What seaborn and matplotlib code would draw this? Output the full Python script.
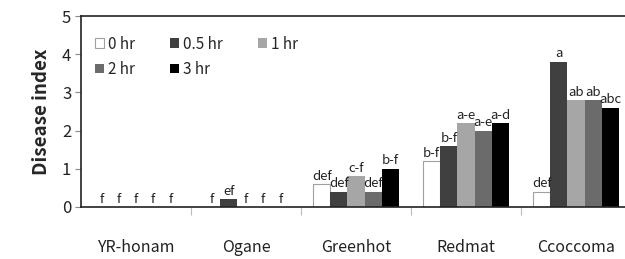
import numpy as np
import pandas as pd
import matplotlib
matplotlib.use("Agg")
import matplotlib.pyplot as plt
import seaborn as sns

# ---------------------------------------------------
# Data
# ---------------------------------------------------

cultivars = ["YR-honam", "Ogane", "Greenhot", "Redmat", "Ccoccoma"]

times = ["0 hr", "0.5 hr", "1 hr", "2 hr", "3 hr"]

values = {
    "0 hr":   [0.0, 0.0, 0.6, 1.2, 0.4],
    "0.5 hr": [0.0, 0.2, 0.4, 1.6, 3.8],
    "1 hr":   [0.0, 0.0, 0.8, 2.2, 2.8],
    "2 hr":   [0.0, 0.0, 0.4, 2.0, 2.8],
    "3 hr":   [0.0, 0.0, 1.0, 2.2, 2.6],
}

letters = {
    "0 hr":   ["f", "f", "def", "b-f", "def"],
    "0.5 hr": ["f", "ef", "def", "b-f", "a"],
    "1 hr":   ["f", "f", "c-f", "a-e", "ab"],
    "2 hr":   ["f", "f", "def", "a-e", "ab"],
    "3 hr":   ["f", "f", "b-f", "a-d", "abc"],
}

colors = ["#ffffff", "#404040", "#a6a6a6", "#6b6b6b", "#000000"]

rows = []
for t in times:
    for c, v in zip(cultivars, values[t]):
        rows.append({"Cultivar": c, "Time": t, "Value": v})
df = pd.DataFrame(rows)

# ---------------------------------------------------
# Plot
# ---------------------------------------------------

sns.set_style("white")
plt.rcParams["font.family"] = ["Noto Sans CJK KR", "DejaVu Sans"]

fig = plt.figure(figsize=(6.25, 2.59), dpi=100)
ax = fig.add_axes([0.1296, 0.2008, 0.88, 0.7372])

sns.barplot(
    data=df,
    x="Cultivar",
    y="Value",
    hue="Time",
    order=cultivars,
    hue_order=times,
    palette=colors,
    width=0.78,
    gap=0,
    edgecolor="none",
    ax=ax
)

for i, container in enumerate(ax.containers):
    if i == 0:
        for bar in container:
            bar.set_edgecolor("#a0a0a0")
            bar.set_linewidth(0.8)
    ax.bar_label(
        container,
        labels=letters[times[i]],
        padding=1,
        fontsize=9.5,
        color="#222222"
    )

ax.set_ylim(0, 5)
ax.set_xlim(-0.5, 4.5)
ax.set_yticks([0, 1, 2, 3, 4, 5])
ax.tick_params(axis="y", labelsize=12, length=4, width=0.8,
               left=True, color="#888888", labelcolor="#222222", pad=3)
ax.tick_params(axis="x", labelsize=11.5, length=0, pad=23,
               labelcolor="#222222")

# separators between cultivars
ax.set_xticks([0.5, 1.5, 2.5, 3.5], minor=True)
ax.tick_params(axis="x", which="minor", length=6, width=0.8,
               color="#bbbbbb", bottom=True)

ax.set_xlabel("")
ax.set_ylabel("Disease index", fontsize=13.5, weight="bold", labelpad=8)

for side in ["left", "top", "bottom"]:
    ax.spines[side].set_visible(True)
    ax.spines[side].set_color("#222222")
    ax.spines[side].set_linewidth(1.2)
ax.spines["right"].set_visible(False)

# legend filled row by row
handles, labels = ax.get_legend_handles_labels()
handles[0].set_edgecolor("#a0a0a0")
handles[0].set_linewidth(0.8)
order = [0, 3, 1, 4, 2]
ax.legend(
    [handles[k] for k in order],
    [labels[k] for k in order],
    loc="upper left",
    bbox_to_anchor=(0.0, 0.97),
    ncol=3,
    frameon=False,
    fontsize=11,
    handlelength=0.6,
    handleheight=0.6,
    handletextpad=0.25,
    columnspacing=2.3,
    labelspacing=0.55,
    borderaxespad=0.6,
    borderpad=0.3
)

fig.savefig("out.png", dpi=100)
